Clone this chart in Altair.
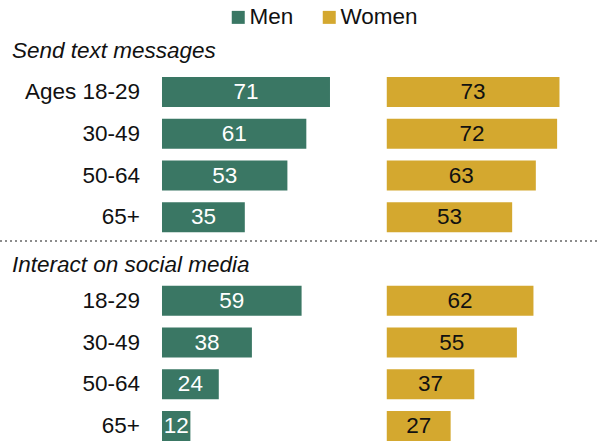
import altair as alt
import pandas as pd

ages = ["18-29", "30-49", "50-64", "65+"]
sections = ["Send text messages", "Interact on social media"]
men_text = [71, 61, 53, 35]
women_text = [73, 72, 63, 53]
men_social = [59, 38, 24, 12]
women_social = [62, 55, 37, 27]

rows = []
for s_i, (men, women) in enumerate([(men_text, women_text), (men_social, women_social)]):
    for r_i, age in enumerate(ages):
        rows.append({"section": s_i, "row": r_i, "age": age, "gender": "Men", "value": men[r_i]})
        rows.append({"section": s_i, "row": r_i, "age": age, "gender": "Women", "value": women[r_i]})
df = pd.DataFrame(rows)

FONT = "Liberation Sans"
FS = 22.5
GREEN = "#3a7764"
GOLD = "#d4a82f"

xs = alt.Scale(domain=[-68.47, 184.28], nice=False, zero=False, padding=0)
ys = alt.Scale(domain=[-2.2036, 8.383], nice=False, zero=False, reverse=True, padding=0)

base = alt.Chart(df).transform_calculate(
    pos="datum.section * 5 + datum.row",
    start="datum.gender == 'Women' ? 95 : 0",
    end="(datum.gender == 'Women' ? 95 : 0) + datum.value",
    mid="(datum.gender == 'Women' ? 95 : 0) + datum.value / 2",
    label="(datum.section == 0 && datum.row == 0 ? 'Ages ' : '') + datum.age",
)

bars = base.mark_bar(size=30).encode(
    x=alt.X("start:Q", scale=xs, axis=None),
    x2="end:Q",
    y=alt.Y("pos:Q", scale=ys, axis=None),
    color=alt.Color(
        "gender:N",
        scale=alt.Scale(domain=["Men", "Women"], range=[GREEN, GOLD]),
        legend=alt.Legend(
            orient="none", legendX=227, legendY=6, direction="horizontal",
            title=None, symbolType="square", symbolSize=169, symbolStrokeWidth=0,
            labelFontSize=FS, labelFont=FONT, labelColor="#111111",
            labelOffset=0, columnPadding=24, padding=0,
        ),
    ),
)

vals = base.mark_text(font=FONT, fontSize=FS, baseline="middle", align="center").encode(
    x=alt.X("mid:Q", scale=xs),
    y=alt.Y("pos:Q", scale=ys),
    text="value:Q",
    color=alt.Color("gender:N", scale=alt.Scale(domain=["Men", "Women"], range=["#ffffff", "#111111"]), legend=None),
)

labels = base.transform_filter("datum.gender == 'Men'").mark_text(
    font=FONT, fontSize=FS, baseline="middle", align="right", dx=-22, color="#111111"
).encode(
    x=alt.datum(0, scale=xs),
    y=alt.Y("pos:Q", scale=ys),
    text="label:N",
)

title_df = pd.DataFrame({"title": sections, "tpos": [-0.98, 4.144]})
titles = alt.Chart(title_df).mark_text(
    font=FONT, fontSize=FS, fontStyle="italic", baseline="middle", align="left", color="#111111"
).encode(
    x=alt.value(12),
    y=alt.Y("tpos:Q", scale=ys),
    text="title:N",
)

divider = alt.Chart(pd.DataFrame({"d": [3.57]})).mark_rule(
    color="#8c8c8c", strokeWidth=2, strokeDash=[2, 3]
).encode(
    y=alt.Y("d:Q", scale=ys),
    x=alt.value(0),
    x2=alt.value(598),
)

chart = alt.layer(bars, vals, labels, titles, divider).resolve_scale(color="independent").properties(
    width=598, height=442, padding=0, autosize=alt.AutoSizeParams(type="none")
).configure_view(stroke=None)

chart.save("out.html", embed_options={"renderer": "svg", "actions": False})
